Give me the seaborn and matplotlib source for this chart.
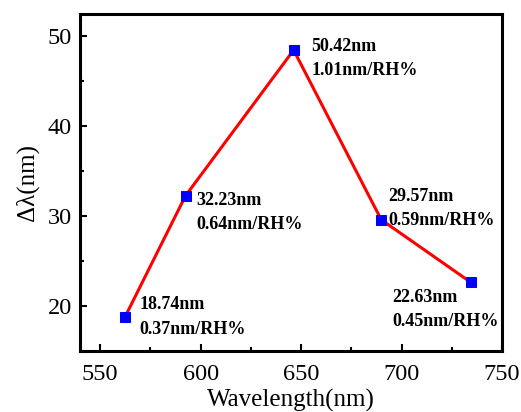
import seaborn as sns
import matplotlib
matplotlib.use('Agg')
import matplotlib.pyplot as plt
from matplotlib.ticker import MultipleLocator
import pandas as pd

# data
wavelength = [562.3, 592.5, 646.3, 689.9, 734.4]
delta_lambda = [18.74, 32.23, 48.4, 29.57, 22.63]
shift_labels = ['18.74nm', '32.23nm', '50.42nm', '29.57nm', '22.63nm']
sens_labels = ['0.37nm/RH%', '0.64nm/RH%', '1.01nm/RH%', '0.59nm/RH%', '0.45nm/RH%']
label_x = [569.6, 598.0, 655.0, 693.5, 695.2]
label_y = [18.78, 30.33, 47.5, 30.8, 19.6]

sns.set_theme(style='ticks')
plt.rcParams['font.family'] = ['Liberation Serif', 'DejaVu Serif']
plt.rcParams['text.color'] = 'black'
plt.rcParams['axes.labelcolor'] = 'black'
plt.rcParams['xtick.color'] = 'black'
plt.rcParams['ytick.color'] = 'black'

df = pd.DataFrame({'wavelength': wavelength, 'delta': delta_lambda})

fig = plt.figure(figsize=(5.21, 4.12), dpi=100)
ax = fig.add_axes([0.1536, 0.148, 0.81, 0.818])

sns.lineplot(data=df, x='wavelength', y='delta', ax=ax, color='#ff0000',
             linewidth=2.2, marker='s', markersize=7, markerfacecolor='#0000ff',
             markeredgecolor='#0000ff', sort=False)

for x, y, s1, s2 in zip(label_x, label_y, shift_labels, sens_labels):
    ax.text(x, y, s1 + '\n' + s2, ha='left', va='center', fontsize=13,
            fontweight='bold', linespacing=1.55, color='black')

ax.set_xlim(540, 750)
ax.set_ylim(15, 52.4)
ax.xaxis.set_major_locator(MultipleLocator(50))
ax.xaxis.set_minor_locator(MultipleLocator(25))
ax.yaxis.set_major_locator(MultipleLocator(10))
ax.yaxis.set_minor_locator(MultipleLocator(5))
ax.tick_params(which='both', direction='in', width=1.5, labelsize=17.5, pad=6)
ax.tick_params(axis='x', which='major', pad=9)
ax.tick_params(which='major', length=5)
ax.tick_params(which='minor', length=3)
ax.tick_params(axis='x', top=False)
ax.tick_params(axis='y', right=False)

for sp in ax.spines.values():
    sp.set_visible(True)
    sp.set_linewidth(2.2)
    sp.set_color('black')

ax.set_xlabel('Wavelength(nm)', fontsize=18, labelpad=3)
ax.set_ylabel('Δλ(nm)', fontsize=18, labelpad=6)

fig.savefig('out.png', dpi=100)
